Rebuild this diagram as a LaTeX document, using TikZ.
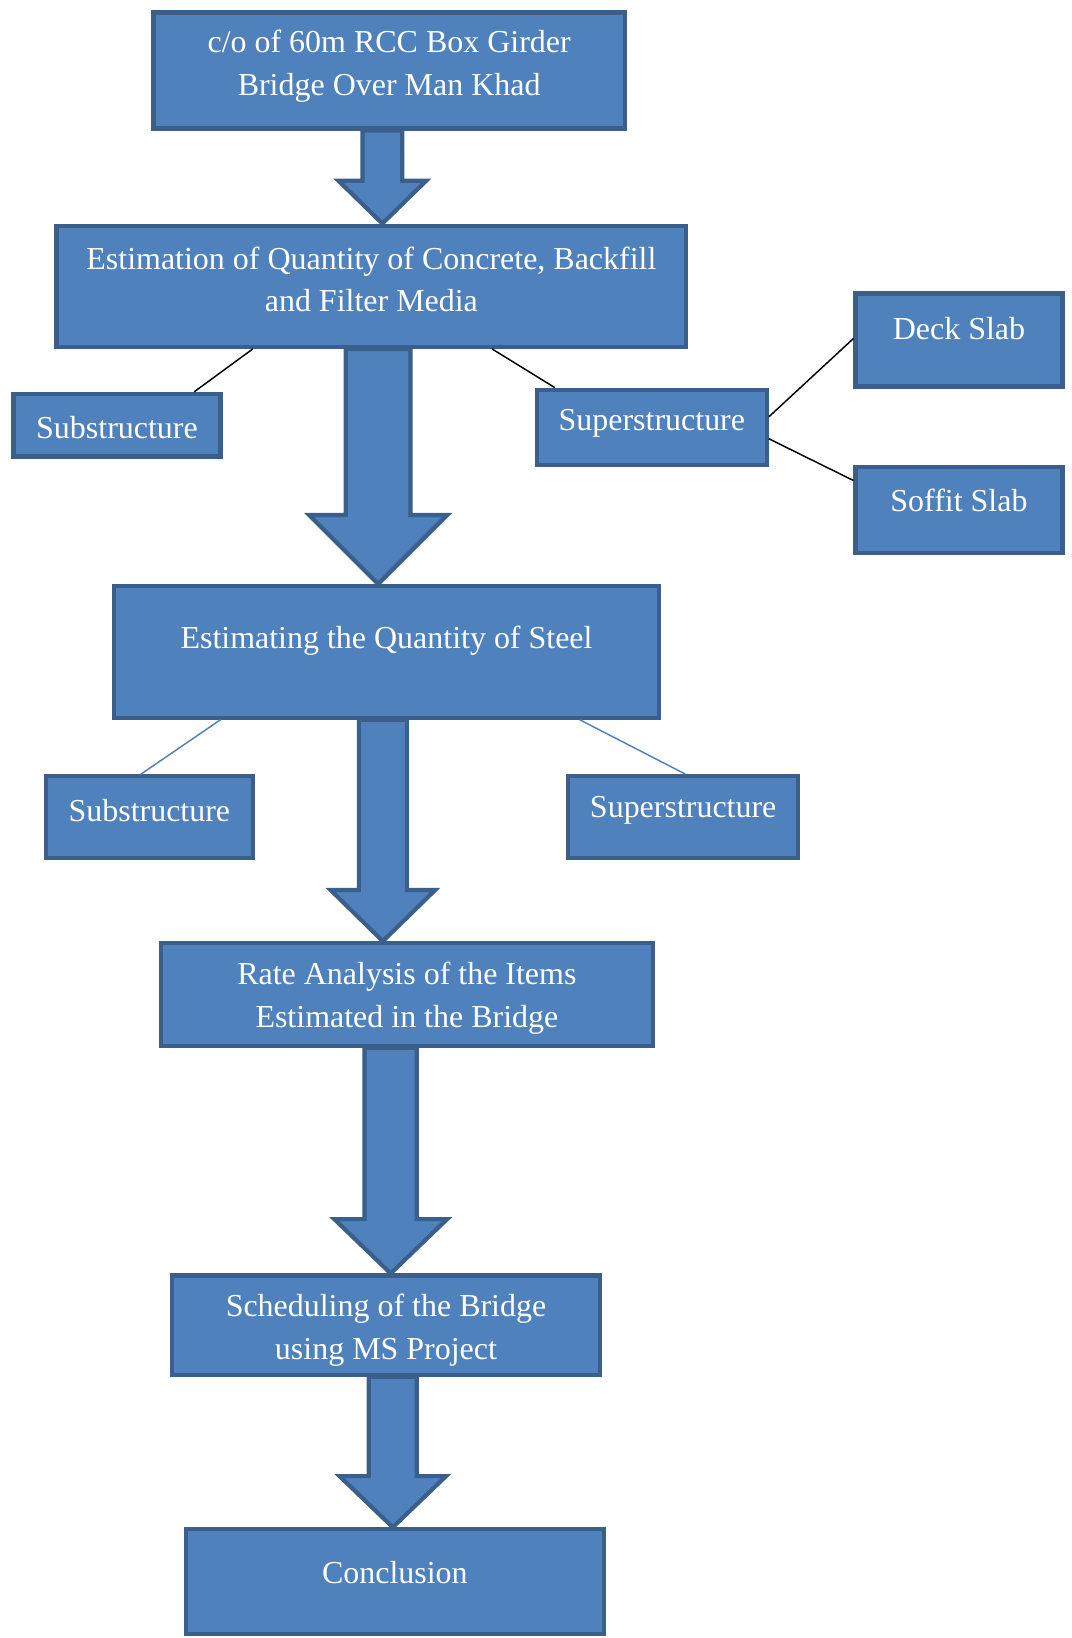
\documentclass[tikz,border=0pt]{standalone}
\usepackage{fontspec}
\setmainfont{Liberation Serif}
\usetikzlibrary{backgrounds}
\definecolor{boxfill}{HTML}{4F81BD}
\definecolor{boxline}{HTML}{3A5F8B}
\tikzset{
  box/.style={draw=boxline, fill=boxfill, line width=2pt, rectangle, inner sep=0pt},
  txt/.style={text=white, font=\fontsize{15.3}{20.5}\selectfont, align=center, inner sep=0pt},
  blk/.style={draw=boxline, fill=boxfill, line width=2pt, line join=miter},
  link/.style={draw=black, line width=0.7pt},
  bluelink/.style={draw=boxfill, line width=0.7pt}
}
\newcommand\blkarrow[6]{%
  \path[blk] (#1.south -| #3-#5,0) -- (#3-#5,#4) -- (#3-#6,#4) -- (#2.north -| #3,0)
     -- (#3+#6,#4) -- (#3+#5,#4) -- (#1.south -| #3+#5,0) -- cycle;}
\begin{document}
\begin{tikzpicture}[x=0.5pt,y=-0.5pt]
\useasboundingbox (0,0) rectangle (1026,1568);
% boxes
\node[box, minimum width=225.5pt, minimum height=55.5pt] (b1) at (372.5,67.5) {};
\node[box, minimum width=301.5pt, minimum height=58pt] (b2) at (355.5,274) {};
\node[box, minimum width=99pt, minimum height=30pt] (sub1) at (112,407) {};
\node[box, minimum width=110pt, minimum height=36pt] (sup1) at (624,409) {};
\node[box, minimum width=99pt, minimum height=44.5pt] (deck) at (918,325.5) {};
\node[box, minimum width=99pt, minimum height=41pt] (soffit) at (918,488) {};
\node[box, minimum width=261pt, minimum height=63pt] (b3) at (370,624) {};
\node[box, minimum width=99pt, minimum height=39pt] (sub2) at (143,782) {};
\node[box, minimum width=110pt, minimum height=39pt] (sup2) at (654,782) {};
\node[box, minimum width=235.5pt, minimum height=49pt] (b4) at (389.5,952) {};
\node[box, minimum width=204.5pt, minimum height=47.5pt] (b5) at (369.5,1268.5) {};
\node[box, minimum width=200pt, minimum height=50pt] (b6) at (378,1514) {};
% texts
\node[txt] (t1) at (372.5,63.5) {c/o of 60m RCC Box Girder\\Bridge Over Man Khad};
\node[txt] (t2) at (355.5,267.5) {Estimation of Quantity of Concrete, Backfill\\and Filter Media};
\node[txt] (ts1) at (112,409) {Substructure};
\node[txt] (tp1) at (624,405) {Superstructure};
\node[txt] (td) at (918,315) {Deck Slab};
\node[txt] (tf) at (918,479) {Soffit Slab};
\node[txt] (t3) at (370,613) {Estimating the Quantity of Steel};
\node[txt] (ts2) at (143,776) {Substructure};
\node[txt] (tp2) at (654,776) {Superstructure};
\node[txt] (t4) at (389.5,955.5) {Rate Analysis of the Items\\Estimated in the Bridge};
\node[txt] (t5) at (369.5,1273) {Scheduling of the Bridge\\using MS Project};
\node[txt] (t6) at (378,1505) {Conclusion};
% connectors
\draw[link] (b2.south -| 242,0) -- (sub1.north -| 186,0);
\draw[link] (b2.south -| 471,0) -- (sup1.north -| 531,0);
\draw[link] (sup1.east |- 0,399) -- (deck.west |- 0,324);
\draw[link] (sup1.east |- 0,420) -- (soffit.west |- 0,460);
\draw[bluelink] (b3.south -| 211,0) -- (sub2.north -| 135,0);
\draw[bluelink] (b3.south -| 555,0) -- (sup2.north -| 656,0);
% block arrows
\begin{scope}[on background layer]
\blkarrow{b1}{b2}{366}{173}{19}{42}
\blkarrow{b2}{b3}{362}{493}{31}{66}
\blkarrow{b3}{b4}{366.5}{852}{23}{50}
\blkarrow{b4}{b5}{374}{1167}{25}{54}
\blkarrow{b5}{b6}{376}{1413}{23}{51}
\end{scope}
\end{tikzpicture}
\end{document}
